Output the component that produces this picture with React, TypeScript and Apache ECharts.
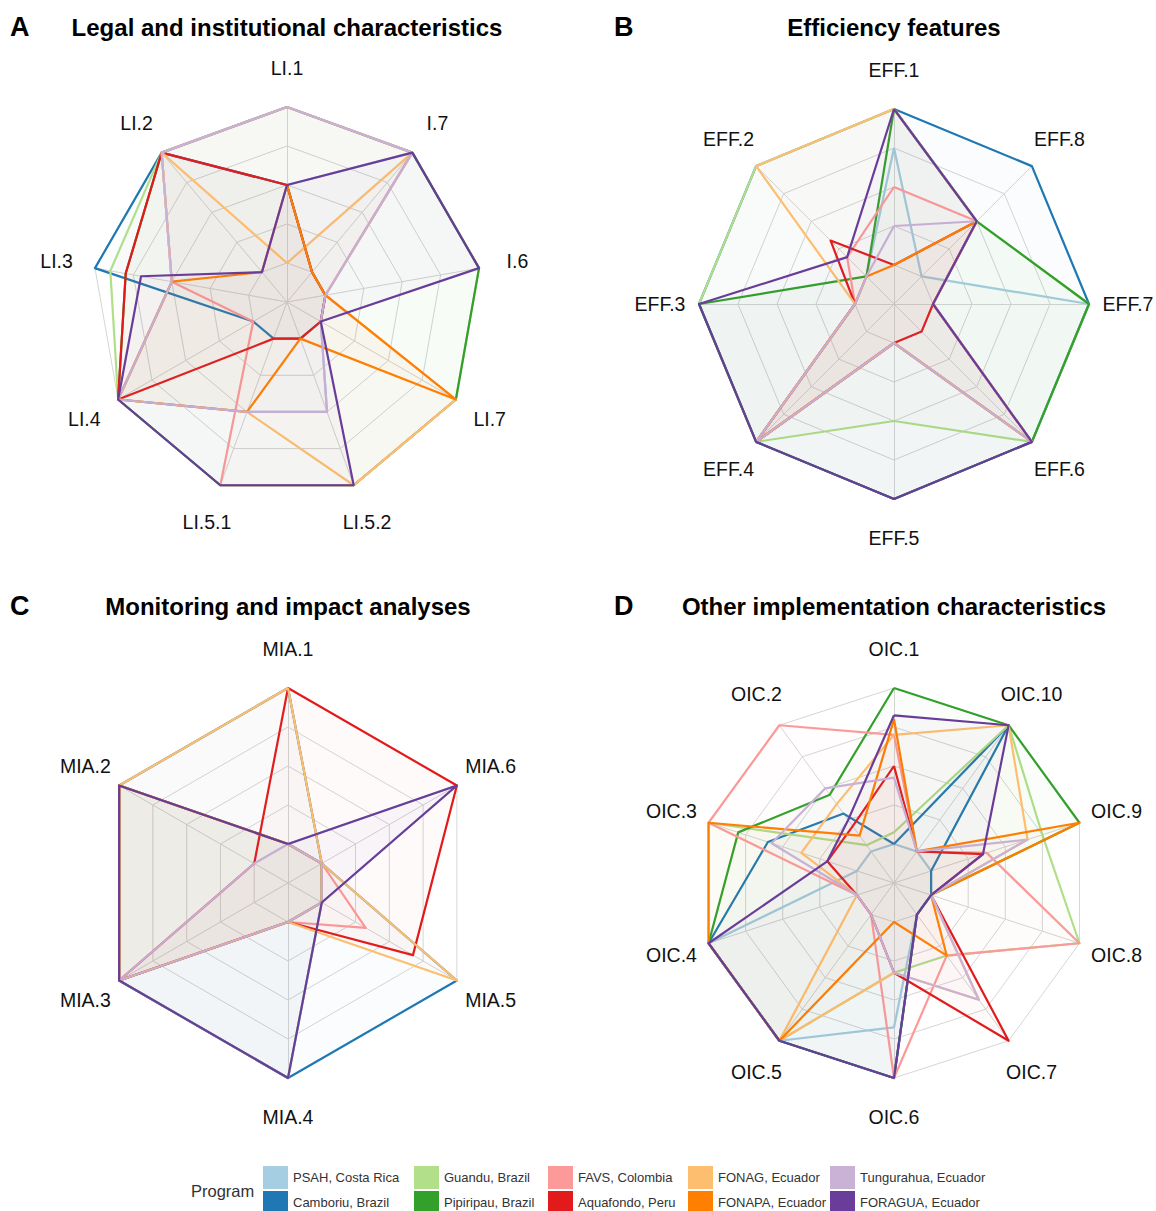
import React, { useEffect, useRef } from 'react';
import * as echarts from 'echarts';

const FONT = '"Liberation Sans", Arial, Helvetica, sans-serif';

const PROGRAMS = [
  'PSAH, Costa Rica',
  'Camboriu, Brazil',
  'Guandu, Brazil',
  'Pipiripau, Brazil',
  'FAVS, Colombia',
  'Aquafondo, Peru',
  'FONAG, Ecuador',
  'FONAPA, Ecuador',
  'Tungurahua, Ecuador',
  'FORAGUA, Ecuador',
];
const COLORS = ['#A6CEE3', '#1F78B4', '#B2DF8A', '#33A02C', '#FB9A99', '#E31A1C', '#FDBF6F', '#FF7F00', '#CAB2D6', '#6A3D9A'];

// Panel A – Legal and institutional characteristics
const AXES_A = ['LI.1', 'LI.2', 'LI.3', 'LI.4', 'LI.5.1', 'LI.5.2', 'LI.7', 'I.6', 'I.7'];
const VALUES_A = [
  [3, 5, 3, 5, 3, 3, 1, 1, 5],
  [3, 5, 5, 1, 1, 1, 1, 1, 1],
  [5, 5, 4.6, 5, 5, 5, 5, 5, 5],
  [5, 5, 4.2, 5, 5, 5, 5, 5, 5],
  [5, 5, 3, 1, 5, 5, 5, 1, 5],
  [3, 5, 4.2, 5, 1, 1, 1, 1, 1],
  [1, 5, 3, 5, 3, 5, 5, 1, 5],
  [3, 1, 3, 5, 3, 1, 5, 1, 1],
  [5, 5, 3, 5, 3, 3, 1, 1, 5],
  [3, 1, 3.8, 5, 5, 5, 1, 5, 5],
];

// Panel B – Efficiency features
const AXES_B = ['EFF.1', 'EFF.2', 'EFF.3', 'EFF.4', 'EFF.5', 'EFF.6', 'EFF.7', 'EFF.8'];
const VALUES_B = [
  [4, 1, 1, 5, 1, 5, 5, 1],
  [5, 5, 5, 5, 5, 5, 5, 5],
  [5, 5, 5, 5, 3, 5, 5, 3],
  [5, 1, 5, 5, 5, 5, 5, 3],
  [3, 1.7, 1, 5, 1, 5, 1, 3],
  [1, 2.3, 1, 5, 1, 1, 1, 3],
  [5, 5, 1, 5, 1, 5, 1, 3],
  [1, 1, 1, 5, 1, 5, 1, 3],
  [2, 1, 1, 5, 1, 5, 1, 3],
  [5, 1.7, 5, 5, 5, 5, 1, 3],
];

// Panel C – Monitoring and impact analyses
const AXES_C = ['MIA.1', 'MIA.2', 'MIA.3', 'MIA.4', 'MIA.5', 'MIA.6'];
const VALUES_C = [
  [1, 5, 5, 5, 1, 5],
  [5, 5, 5, 5, 5, 1],
  [1, 5, 5, 5, 1, 1],
  [1, 5, 5, 1, 1, 1],
  [1, 5, 5, 1, 2.3, 1],
  [5, 1, 5, 1, 3.7, 5],
  [5, 5, 5, 1, 5, 1],
  [1, 5, 5, 1, 1, 1],
  [1, 1, 5, 1, 1, 1],
  [1, 5, 5, 5, 1, 5],
];

// Panel D – Other implementation characteristics
const AXES_D = ['OIC.1', 'OIC.2', 'OIC.3', 'OIC.4', 'OIC.5', 'OIC.6', 'OIC.7', 'OIC.8', 'OIC.9', 'OIC.10'];
const VALUES_D = [
  [1, 1, 1, 5, 5, 3.7, 1, 1, 1, 1],
  [1, 2.2, 3.4, 5, 5, 5, 1, 1, 1, 5],
  [1.3, 1.2, 5, 5, 5, 2.3, 2.3, 5, 4, 5],
  [5, 2.8, 4.2, 5, 5, 5, 1, 1, 5, 5],
  [3.8, 5, 5, 1, 1, 5, 2.3, 5, 2.5, 1],
  [3, 1.8, 1.8, 1, 1, 2.3, 5, 1, 2.4, 1],
  [3.8, 2.5, 2.5, 1, 5, 2.3, 3.7, 1, 3.6, 5],
  [4.2, 1.5, 5, 5, 5, 1, 2.3, 1, 5, 1],
  [2.7, 3, 3.3, 1, 1, 2.3, 3.7, 1, 3.6, 1],
  [4.3, 2, 1.8, 5, 5, 5, 1, 1, 2.4, 5],
];

const PANEL_LETTERS = ['A', 'B', 'C', 'D'];
const PANEL_TITLES = [
  'Legal and institutional characteristics',
  'Efficiency features',
  'Monitoring and impact analyses',
  'Other implementation characteristics',
];
const PANEL_AXES = [AXES_A, AXES_B, AXES_C, AXES_D];
const PANEL_VALUES = [VALUES_A, VALUES_B, VALUES_C, VALUES_D];
const PANEL_CENTERS = [
  [287, 302],
  [894, 304],
  [288, 883],
  [894, 883],
];
const RADIUS = 195;
const MAX_SCORE = 5;

const LEGEND_COL_X = [263, 414, 548, 688, 830];
const LEGEND_ROW_Y = [1166, 1191];

export default function App() {
  const ref = useRef<HTMLDivElement>(null);

  useEffect(() => {
    if (!ref.current) return;
    const chart = echarts.init(ref.current, null, { renderer: 'svg' });

    const radar = PANEL_AXES.map((axes, pi) => ({
      center: PANEL_CENTERS[pi],
      radius: RADIUS,
      startAngle: 90,
      splitNumber: 5,
      shape: 'polygon',
      nameGap: 39,
      indicator: axes.map((name) => ({ name, min: 0, max: MAX_SCORE })),
      axisName: {
        color: '#111',
        fontSize: 19.5,
        fontFamily: FONT,
        align: 'center',
        verticalAlign: 'middle',
      },
      axisLine: { lineStyle: { color: '#d6d6d6', width: 1 } },
      splitLine: { lineStyle: { color: '#d6d6d6', width: 1 } },
      splitArea: { show: false },
      axisTick: { show: false },
      axisLabel: { show: false },
    }));

    const series: any[] = [];
    PANEL_VALUES.forEach((values, pi) => {
      PROGRAMS.forEach((prog, i) => {
        series.push({
          type: 'radar',
          name: prog,
          radarIndex: pi,
          symbol: 'none',
          silent: true,
          color: COLORS[i],
          lineStyle: { color: COLORS[i], width: 2.2 },
          areaStyle: { color: COLORS[i], opacity: 0.022 },
          data: [{ name: prog, value: values[i] }],
        });
      });
    });

    const title: any[] = [];
    PANEL_TITLES.forEach((t, pi) => {
      const c = PANEL_CENTERS[pi];
      const midY = pi < 2 ? 27 : 606;
      title.push({
        text: PANEL_LETTERS[pi],
        left: pi % 2 === 0 ? 10 : 614,
        top: midY - 14,
        padding: 0,
        textStyle: { fontSize: 27, fontWeight: 'bold', color: '#000', fontFamily: FONT },
      });
      title.push({
        text: t,
        left: c[0],
        top: midY - 12,
        padding: 0,
        textAlign: 'center',
        textStyle: { fontSize: 24, fontWeight: 'bold', color: '#000', fontFamily: FONT },
      });
    });

    const legend = PROGRAMS.map((prog, i) => ({
      data: [{ name: prog, icon: 'rect', itemStyle: { color: COLORS[i] } }],
      left: LEGEND_COL_X[Math.floor(i / 2)],
      top: LEGEND_ROW_Y[i % 2],
      padding: 0,
      itemWidth: 25,
      itemHeight: 23,
      selectedMode: false,
      textStyle: { fontSize: 13, color: '#333', fontFamily: FONT },
    }));

    chart.setOption({
      animation: false,
      backgroundColor: '#ffffff',
      title,
      radar,
      legend,
      series,
      graphic: [
        {
          type: 'text',
          x: 191,
          y: 1191,
          style: {
            text: 'Program',
            fontSize: 16.5,
            fontFamily: FONT,
            fill: '#333',
            textAlign: 'left',
            textVerticalAlign: 'middle',
            align: 'left',
            verticalAlign: 'middle',
          },
        },
      ],
    });

    return () => chart.dispose();
  }, []);

  return (
    <div
      ref={ref}
      style={{ position: 'absolute', left: 0, top: 0, width: 1156, height: 1211, background: '#fff' }}
    />
  );
}
